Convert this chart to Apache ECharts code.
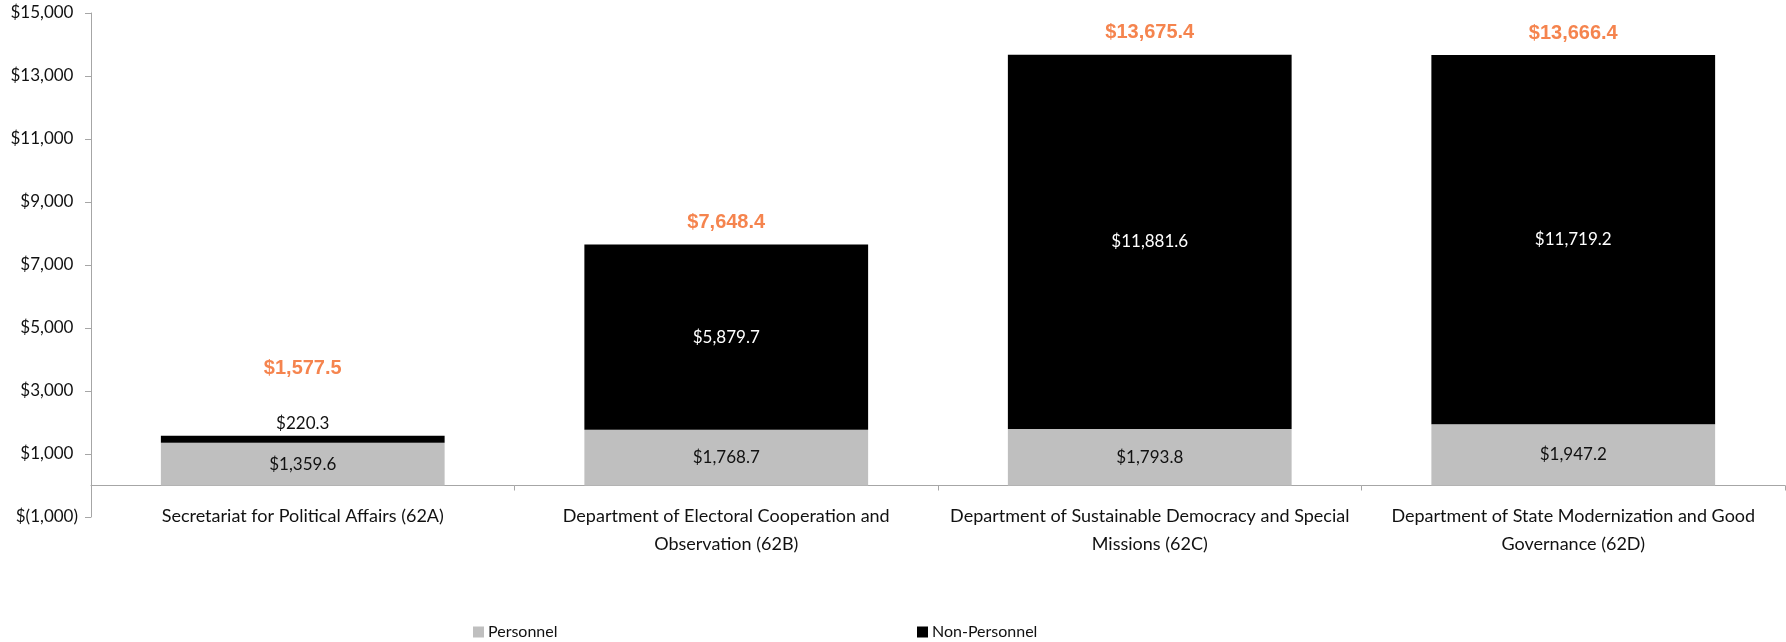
<!DOCTYPE html>
<html>
<head>
<meta charset="utf-8">
<title>Budget by Department</title>
<script src="https://cdn.jsdelivr.net/npm/echarts@6/dist/echarts.min.js"></script>
<style>
  html, body { margin: 0; padding: 0; background: #ffffff; }
  #chart { width: 1786px; height: 642px; }
</style>
</head>
<body>
<div id="chart"></div>
<script>
// Departments (tick labels, with their line breaks)
const categories = [
  'Secretariat for Political Affairs (62A)',
  'Department of Electoral Cooperation and\nObservation (62B)',
  'Department of Sustainable Democracy and Special\nMissions (62C)',
  'Department of State Modernization and Good\nGovernance (62D)'
];

// Amounts per department
const personnel    = [1359.6, 1768.7, 1793.8, 1947.2];
const nonPersonnel = [220.3, 5879.7, 11881.6, 11719.2];
const totals       = [1577.5, 7648.4, 13675.4, 13666.4];

// Value axis range and step
const axisMin = -1000;
const axisMax = 15000;
const axisStep = 2000;

const FONT = 'Lato';
const TEXT = '#111111';
const AXIS = '#a6a6a6';

function money(v) {
  const s = Math.abs(v).toLocaleString('en-US', { minimumFractionDigits: 1, maximumFractionDigits: 1 });
  return '$' + s;
}

// Accounting-style axis label: negatives in parentheses, positives keep a hidden ")" so digits line up
function axisMoney(v) {
  const s = Math.abs(v).toLocaleString('en-US', { maximumFractionDigits: 0 });
  if (v < 0) return '{n|$(' + s + ')}';
  return '{n|$' + s + '}{h|)}';
}

const SMALL_SEGMENT = 1000;

const nonPersonnelData = nonPersonnel.map(function (v) {
  if (v < SMALL_SEGMENT) {
    return { value: v, label: { position: 'top', color: TEXT, distance: 4 } };
  }
  return v;
});

const totalData = totals.map(function (v, i) {
  const lifted = nonPersonnel[i] < SMALL_SEGMENT;
  return { value: v, label: { offset: [0, lifted ? -45 : 0] } };
});

const chart = echarts.init(document.getElementById('chart'), null, { renderer: 'canvas' });

chart.setOption({
  animation: false,
  backgroundColor: '#ffffff',
  grid: { left: 91, right: 1, top: 13, bottom: 125, containLabel: false },
  legend: [
    {
      data: ['Personnel'],
      left: 468, top: 619,
      itemWidth: 11, itemHeight: 11, itemGap: 0,
      icon: 'rect',
      textStyle: { fontFamily: FONT, fontSize: 16, color: TEXT, padding: [0, 0, 0, -1] }
    },
    {
      data: ['Non-Personnel'],
      left: 912, top: 619,
      itemWidth: 11, itemHeight: 11, itemGap: 0,
      icon: 'rect',
      textStyle: { fontFamily: FONT, fontSize: 16, color: TEXT, padding: [0, 0, 0, -1] }
    }
  ],
  xAxis: {
    type: 'category',
    data: categories,
    axisLine: { onZero: true, lineStyle: { color: AXIS, width: 1 } },
    axisTick: { show: true, length: 5, lineStyle: { color: AXIS } },
    axisLabel: {
      interval: 0,
      margin: -15,
      fontFamily: FONT,
      fontSize: 18,
      lineHeight: 28,
      color: TEXT,
      align: 'center'
    },
    splitLine: { show: false }
  },
  yAxis: {
    type: 'value',
    min: axisMin,
    max: axisMax,
    interval: axisStep,
    axisLine: { show: true, lineStyle: { color: AXIS, width: 1 } },
    axisTick: { show: true, length: 6, lineStyle: { color: AXIS } },
    splitLine: { show: false },
    axisLabel: {
      margin: 13,
      formatter: axisMoney,
      rich: {
        n: { fontFamily: FONT, fontSize: 17, color: TEXT },
        h: { fontFamily: FONT, fontSize: 17, color: 'rgba(0,0,0,0)' }
      }
    }
  },
  series: [
    {
      name: 'Personnel',
      type: 'bar',
      stack: 'budget',
      barCategoryGap: '33%',
      data: personnel,
      itemStyle: { color: '#bfbfbf' },
      label: {
        show: true,
        position: 'inside',
        fontFamily: FONT,
        fontSize: 17,
        color: TEXT,
        formatter: function (p) { return money(p.value); }
      }
    },
    {
      name: 'Non-Personnel',
      type: 'bar',
      stack: 'budget',
      barCategoryGap: '33%',
      data: nonPersonnelData,
      itemStyle: { color: '#000000' },
      label: {
        show: true,
        position: 'inside',
        fontFamily: FONT,
        fontSize: 17,
        color: '#ffffff',
        formatter: function (p) { return money(p.value); }
      }
    },
    {
      name: 'Total',
      type: 'scatter',
      data: totalData,
      symbolSize: 0,
      itemStyle: { color: 'rgba(0,0,0,0)' },
      silent: true,
      label: {
        show: true,
        position: 'top',
        distance: 12,
        fontFamily: '"Liberation Sans", Arial, sans-serif',
        fontWeight: 'bold',
        fontSize: 20,
        color: '#f26522',
        formatter: function (p) { return money(p.value); }
      }
    }
  ]
});
</script>
</body>
</html>
